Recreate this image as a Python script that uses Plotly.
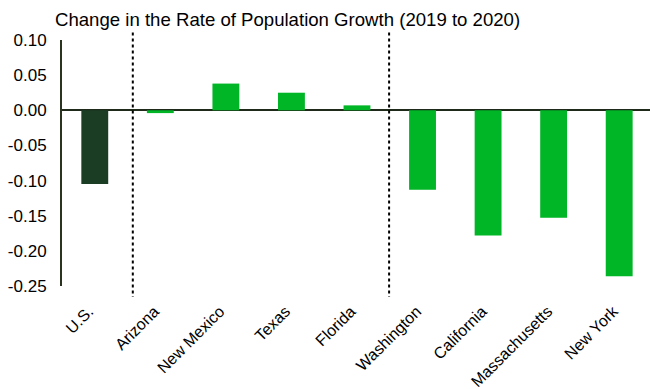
import plotly.graph_objects as go

categories = ["U.S.", "Arizona", "New Mexico", "Texas", "Florida",
              "Washington", "California", "Massachusetts", "New York"]
values = [-0.105, -0.004, 0.038, 0.025, 0.007, -0.113, -0.178, -0.153, -0.236]
bar_colors = ["#1a3d24"] + ["#00b526"] * 8

y_tickvals = [0.10, 0.05, 0.00, -0.05, -0.10, -0.15, -0.20, -0.25]
y_ticktext = ["0.10", "0.05", "0.00", "-0.05", "-0.10", "-0.15", "-0.20", "-0.25"]

separators = [0.58, 4.49]

FONT = "Liberation Sans, Arial, sans-serif"
idx = list(range(len(categories)))

fig = go.Figure()
fig.add_trace(go.Bar(
    x=idx, y=values,
    marker=dict(color=bar_colors, line=dict(width=0)),
    width=0.41, hoverinfo="skip",
))

for sx in separators:
    fig.add_shape(type="line", xref="x", yref="paper",
                  x0=sx, x1=sx, y0=1.03, y1=-0.045,
                  line=dict(color="black", width=2, dash="dot"))

fig.update_layout(
    width=650, height=389,
    margin=dict(l=62, r=0, t=40, b=103),
    paper_bgcolor="white", plot_bgcolor="white",
    showlegend=False,
    font=dict(family=FONT, color="black", size=16),
    title=dict(text="Change in the Rate of Population Growth (2019 to 2020)",
               xref="container", yref="container",
               x=55 / 650, xanchor="left", y=1 - 19 / 389, yanchor="middle",
               font=dict(family=FONT, size=18.6, color="black")),
    xaxis=dict(range=[-0.5, 8.47], tickvals=idx, ticktext=categories,
               tickangle=-45, showgrid=False, showline=False, zeroline=False,
               ticks="", automargin=False, ticklabelstandoff=12,
               ticklabelshift=-6,
               tickfont=dict(family=FONT, size=16, color="black")),
    yaxis=dict(range=[-0.25, 0.10], tickvals=y_tickvals, ticktext=y_ticktext,
               showgrid=False, showline=True, linecolor="#2a331f", linewidth=2,
               zeroline=True, zerolinecolor="#1f2a1a", zerolinewidth=2,
               ticks="", ticklabelstandoff=10, automargin=False,
               tickfont=dict(family=FONT, size=17, color="black")),
)

fig.write_html("out.html", config={"displayModeBar": False},
               post_script="document.body.style.margin='0';document.body.style.padding='0';")
